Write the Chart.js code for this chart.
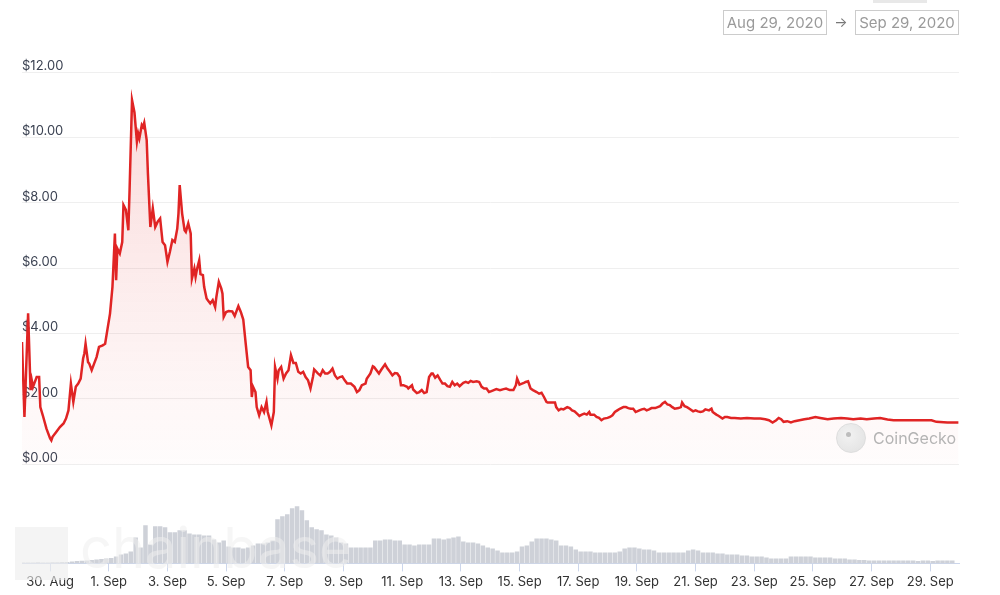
<!DOCTYPE html>
<html lang="en">
<head>
<meta charset="utf-8">
<title>Price chart</title>
<script src="https://cdn.jsdelivr.net/npm/chart.js@4.4.0/dist/chart.umd.min.js"></script>
<style>
    body {
        margin: 0;
        background: #ffffff;
    }
    #wrap {
        position: relative;
        width: 1000px;
        height: 595px;
        overflow: hidden;
        font-family: Inter, "Noto Sans", sans-serif;
    }
    #priceChart {
        position: absolute;
        left: 0;
        top: 0;
    }
    .tab {
        position: absolute;
        left: 873px;
        top: 0;
        width: 54px;
        height: 3px;
        background: #e8e8e8;
    }
    .range-box {
        position: absolute;
        top: 10px;
        height: 23px;
        border: 1px solid #cccccc;
        color: #9a9a9a;
        font-size: 15px;
        line-height: 23px;
        text-align: center;
        box-sizing: content-box;
    }
    .range-arrow {
        position: absolute;
        left: 833px;
        top: 10px;
        width: 16px;
        line-height: 23px;
        font-size: 14px;
        color: #777777;
        text-align: center;
    }
    .gecko-logo {
        position: absolute;
        left: 836px;
        top: 423px;
        width: 28px;
        height: 28px;
        border-radius: 50%;
        border: 1px solid #dddddd;
        background: radial-gradient(circle at 40% 40%, #f2f2f2, #e0e0e0);
    }
    .gecko-eye {
        position: absolute;
        left: 846px;
        top: 432px;
        width: 5px;
        height: 5px;
        border-radius: 50%;
        background: #bdbdbd;
    }
    .gecko-text {
        position: absolute;
        left: 873px;
        top: 427px;
        font-size: 16px;
        line-height: 22px;
        color: #b4b4b4;
    }
    .chainbase-mark {
        position: absolute;
        left: 15px;
        top: 527px;
        width: 53px;
        height: 53px;
        background: rgba(236, 236, 236, 0.6);
        pointer-events: none;
    }
    .chainbase-text {
        position: absolute;
        left: 80px;
        top: 516px;
        font-size: 56px;
        line-height: 64px;
        color: rgba(238, 238, 238, 0.55);
        pointer-events: none;
    }
</style>
</head>
<body>
<div id="wrap">
    <canvas id="priceChart" width="1000" height="595"></canvas>
    <div class="tab"></div>
    <div class="range-box" style="left:723px;width:102px;">Aug 29, 2020</div>
    <div class="range-arrow">&rarr;</div>
    <div class="range-box" style="left:855px;width:102px;">Sep 29, 2020</div>
    <div class="gecko-logo"></div>
    <div class="gecko-eye"></div>
    <div class="gecko-text">CoinGecko</div>
    <div class="chainbase-mark"></div>
    <div class="chainbase-text">chainbase</div>
</div>

<script>
/* ============================================
   Price + volume chart (Aug 29 - Sep 29, 2020)
   x values are hours since Aug 29, 2020 00:00
============================================ */

// Price, USD: [hour, price]
const priceSeries = [
    [1, 3.74], [3, 1.45], [4, 2.48], [6, 4.62], [8, 2.27], [9, 2.57], [10, 2.37], [11, 2.47],
    [13, 2.67], [15, 2.67], [16, 1.75], [18, 1.50], [21, 1.09], [24, 0.79], [25, 0.73], [26, 0.84],
    [29, 0.99], [32, 1.14], [35, 1.25], [37, 1.40], [39, 1.65], [41, 2.47], [43, 1.91], [45, 2.37],
    [47, 2.47], [49, 2.62], [51, 3.24], [52, 3.39], [53, 3.69], [55, 3.13], [56, 3.08], [58, 2.88],
    [60, 3.08], [62, 3.28], [64, 3.59], [67, 3.64], [69, 3.69], [71, 4.15], [73, 4.61], [75, 5.43],
    [77, 7.06], [78, 5.63], [79, 6.60], [81, 6.45], [83, 6.80], [84, 7.93], [86, 7.78], [88, 7.16],
    [89, 8.39], [91, 11.14], [93, 10.76], [95, 9.87], [96, 10.12], [97, 9.97], [99, 10.38], [100, 10.32],
    [101, 10.45], [103, 9.92], [104, 8.90], [106, 7.26], [108, 7.83], [110, 7.26], [112, 7.42], [114, 7.52],
    [116, 6.80], [118, 6.70], [119, 6.45], [120, 6.19], [122, 6.50], [124, 6.86], [126, 6.80], [128, 7.21],
    [129, 7.67], [130, 8.54], [132, 7.67], [134, 7.16], [135, 7.11], [137, 7.37], [139, 7.06], [140, 5.68],
    [142, 5.99], [143, 5.73], [144, 5.94], [146, 6.24], [147, 5.82], [149, 5.79], [150, 5.43], [152, 5.07],
    [153, 5.02], [155, 4.92], [157, 5.02], [159, 4.81], [160, 5.12], [162, 5.58], [164, 5.38], [165, 5.22],
    [166, 4.51], [168, 4.66], [170, 4.69], [173, 4.68], [175, 4.54], [178, 4.84], [180, 4.66], [182, 4.43],
    [184, 3.69], [186, 2.98], [188, 2.88], [189, 2.06], [190, 2.37], [192, 2.21], [193, 1.75], [195, 1.50],
    [197, 1.75], [199, 1.60], [201, 1.91], [202, 1.60], [205, 1.19], [207, 1.60], [208, 2.98], [210, 2.62],
    [211, 2.88], [213, 2.98], [215, 2.62], [217, 2.78], [219, 2.88], [221, 3.34], [223, 3.10], [225, 3.10],
    [227, 2.83], [229, 2.78], [231, 2.83], [233, 2.67], [235, 2.57], [237, 2.32], [239, 2.67], [240, 2.90],
    [243, 2.78], [245, 2.72], [247, 2.88], [249, 2.78], [251, 2.78], [253, 2.83], [255, 2.93], [257, 2.72],
    [259, 2.62], [261, 2.67], [263, 2.69], [265, 2.57], [267, 2.47], [270, 2.47], [273, 2.37], [275, 2.21],
    [277, 2.27], [279, 2.42], [282, 2.47], [283, 2.62], [286, 2.78], [288, 3.00], [289, 2.98], [291, 2.88],
    [293, 2.78], [295, 2.90], [298, 3.06], [300, 2.93], [302, 2.83], [304, 2.72], [306, 2.79], [308, 2.78],
    [310, 2.67], [311, 2.42], [313, 2.42], [316, 2.37], [317, 2.32], [320, 2.42], [321, 2.29], [324, 2.18],
    [326, 2.21], [328, 2.27], [330, 2.18], [332, 2.21], [334, 2.67], [336, 2.78], [337, 2.78], [339, 2.65],
    [341, 2.72], [343, 2.59], [345, 2.47], [347, 2.47], [349, 2.39], [351, 2.37], [353, 2.52], [355, 2.42],
    [357, 2.47], [359, 2.39], [362, 2.49], [364, 2.52], [366, 2.49], [368, 2.55], [370, 2.52], [373, 2.54],
    [375, 2.52], [377, 2.37], [379, 2.32], [381, 2.32], [383, 2.21], [385, 2.24], [387, 2.27], [389, 2.30],
    [392, 2.27], [395, 2.30], [397, 2.32], [400, 2.27], [403, 2.27], [405, 2.42], [406, 2.62], [408, 2.44],
    [410, 2.47], [412, 2.50], [413, 2.52], [415, 2.54], [417, 2.32], [419, 2.27], [422, 2.21], [424, 2.16],
    [426, 2.19], [428, 2.06], [430, 1.91], [431, 1.89], [434, 1.89], [437, 1.89], [438, 1.75], [440, 1.65],
    [442, 1.70], [444, 1.68], [447, 1.75], [449, 1.72], [451, 1.65], [453, 1.62], [455, 1.55], [457, 1.48],
    [459, 1.52], [461, 1.55], [463, 1.52], [465, 1.60], [466, 1.52], [469, 1.52], [471, 1.45], [473, 1.42],
    [475, 1.35], [477, 1.40], [480, 1.42], [482, 1.45], [484, 1.50], [486, 1.60], [488, 1.65], [490, 1.70],
    [493, 1.75], [495, 1.75], [497, 1.72], [499, 1.70], [501, 1.70], [503, 1.60], [506, 1.65], [508, 1.68],
    [510, 1.70], [512, 1.65], [514, 1.68], [516, 1.72], [519, 1.72], [521, 1.75], [523, 1.78], [525, 1.86],
    [527, 1.91], [529, 1.83], [531, 1.81], [533, 1.75], [535, 1.70], [538, 1.72], [540, 1.75], [541, 1.89],
    [543, 1.78], [545, 1.75], [547, 1.70], [550, 1.62], [552, 1.65], [554, 1.62], [556, 1.60], [558, 1.62],
    [560, 1.68], [563, 1.65], [565, 1.70], [566, 1.60], [569, 1.52], [571, 1.48], [574, 1.40], [576, 1.45],
    [578, 1.45], [581, 1.42], [584, 1.42], [589, 1.40], [594, 1.42], [600, 1.40], [605, 1.40], [609, 1.38],
    [612, 1.35], [615, 1.28], [618, 1.35], [620, 1.42], [622, 1.38], [624, 1.30], [627, 1.32], [630, 1.28],
    [633, 1.32], [637, 1.35], [641, 1.38], [645, 1.40], [650, 1.45], [654, 1.42], [660, 1.38], [665, 1.40],
    [671, 1.42], [676, 1.40], [681, 1.38], [687, 1.40], [692, 1.38], [698, 1.40], [703, 1.42], [709, 1.37],
    [714, 1.35], [722, 1.35], [730, 1.35], [739, 1.35], [745, 1.35], [749, 1.30], [758, 1.28], [767, 1.28]
];

// Volume, million USD, one bar every 4 hours starting at hour 2 (six per row = one day)
const volumeStartHour = 2;
const volumeStepHours = 4;
const volumeValues = [
    0.8, 1, 1, 1.2, 1, 1,
    1.1, 1.2, 1.3, 1.5, 2, 2.5,
    2.7, 3, 3.5, 4, 4.5, 5,
    5.3, 7, 9, 10, 12, 26,
    16, 38, 19, 37, 37, 36,
    31, 31, 33, 33, 30, 29,
    29, 28, 28, 24, 21, 23,
    17, 16, 16, 15, 16, 18,
    20, 20, 21, 23, 44, 47,
    49, 55, 57, 53, 43, 36,
    34, 33, 29, 28, 26, 21,
    20, 16, 16, 16, 16, 16,
    23, 23, 24, 24, 23, 23,
    19, 19, 18, 19, 19, 19,
    25, 25, 24, 25, 26, 27,
    22, 21, 21, 20, 18, 16,
    15, 13, 11, 11, 11, 12,
    17, 18, 22, 25, 25, 25,
    24, 23, 18, 18, 17, 14,
    12, 12, 12, 11, 11, 11,
    11, 11, 12, 15, 16, 16,
    15, 14, 14, 13, 11, 11,
    11, 11, 11, 11, 13, 14,
    13, 11, 11, 11, 10, 10,
    9, 9, 9, 8, 8, 7,
    7, 7, 6, 5, 5, 5,
    5, 7, 7, 7, 7, 7,
    6, 6, 6, 6, 5, 5,
    5, 4, 4, 3.5, 3.5, 3,
    3, 3, 3, 3, 3, 3,
    3, 3, 3, 2.5, 3, 3,
    2.5, 3, 3, 3, 3
];

// Axis ticks
const xTickHours = [24, 72, 120, 168, 216, 264, 312, 360, 408, 456, 504, 552, 600, 648, 696, 744];
const xTickLabels = ['30. Aug', '1. Sep', '3. Sep', '5. Sep', '7. Sep', '9. Sep', '11. Sep', '13. Sep',
    '15. Sep', '17. Sep', '19. Sep', '21. Sep', '23. Sep', '25. Sep', '27. Sep', '29. Sep'];
const yTickValues = [0, 2, 4, 6, 8, 10, 12];

const FONT_FAMILY = 'Inter, "Noto Sans", sans-serif';

let priceChart = null;

document.addEventListener('DOMContentLoaded', () => {
    initChart();
});

/**
 * Red gradient under the price line, fading out at $0
 */
function priceFill(context) {
    const chart = context.chart;
    const area = chart.chartArea;
    if (!area) {
        return 'rgba(224, 32, 32, 0.1)';
    }
    const zeroY = chart.scales.y.getPixelForValue(0);
    const gradient = chart.ctx.createLinearGradient(0, area.top, 0, zeroY);
    gradient.addColorStop(0, 'rgba(224, 32, 32, 0.17)');
    gradient.addColorStop(1, 'rgba(224, 32, 32, 0.01)');
    return gradient;
}

/**
 * Build the chart
 */
function initChart() {
    const ctx = document.getElementById('priceChart');

    const priceData = priceSeries.map(p => ({ x: p[0], y: p[1] }));
    const volumeData = volumeValues.map((v, i) => ({
        x: volumeStartHour + i * volumeStepHours,
        y: v
    }));

    priceChart = new Chart(ctx, {
        data: {
            datasets: [
                {
                    type: 'line',
                    label: 'Price',
                    data: priceData,
                    yAxisID: 'y',
                    borderColor: '#e02424',
                    borderWidth: 2.5,
                    pointRadius: 0,
                    tension: 0,
                    fill: 'origin',
                    backgroundColor: priceFill,
                    order: 1
                },
                {
                    type: 'bar',
                    label: 'Volume',
                    data: volumeData,
                    yAxisID: 'yVolume',
                    backgroundColor: '#ced1d8',
                    borderWidth: 0,
                    barPercentage: 0.92,
                    categoryPercentage: 1,
                    order: 2
                }
            ]
        },
        options: {
            responsive: false,
            animation: false,
            layout: {
                padding: { left: 22, right: 41, top: 72, bottom: 2 }
            },
            plugins: {
                legend: { display: false },
                tooltip: { enabled: false }
            },
            scales: {
                x: {
                    type: 'linear',
                    offset: false,
                    min: 1,
                    max: 767.5,
                    afterBuildTicks: axis => {
                        axis.ticks = xTickHours.map(v => ({ value: v }));
                    },
                    grid: {
                        offset: false,
                        drawOnChartArea: false,
                        drawTicks: true,
                        tickLength: 8,
                        color: '#ccd6eb'
                    },
                    border: {
                        display: true,
                        color: '#ccd6eb'
                    },
                    ticks: {
                        autoSkip: false,
                        maxRotation: 0,
                        padding: 3,
                        color: '#333333',
                        font: { family: FONT_FAMILY, size: 13 },
                        callback: value => xTickLabels[xTickHours.indexOf(value)]
                    }
                },
                y: {
                    position: 'left',
                    min: -3.03,
                    max: 12,
                    afterBuildTicks: axis => {
                        axis.ticks = yTickValues.map(v => ({ value: v }));
                    },
                    grid: {
                        color: '#efefef',
                        drawTicks: false
                    },
                    border: { display: false },
                    ticks: {
                        mirror: true,
                        padding: 0,
                        labelOffset: -6,
                        color: '#3b4252',
                        font: { family: FONT_FAMILY, size: 13 },
                        callback: value => '$' + value.toFixed(2)
                    }
                },
                yVolume: {
                    display: false,
                    min: 0,
                    max: 491
                }
            }
        }
    });
}
</script>
</body>
</html>
